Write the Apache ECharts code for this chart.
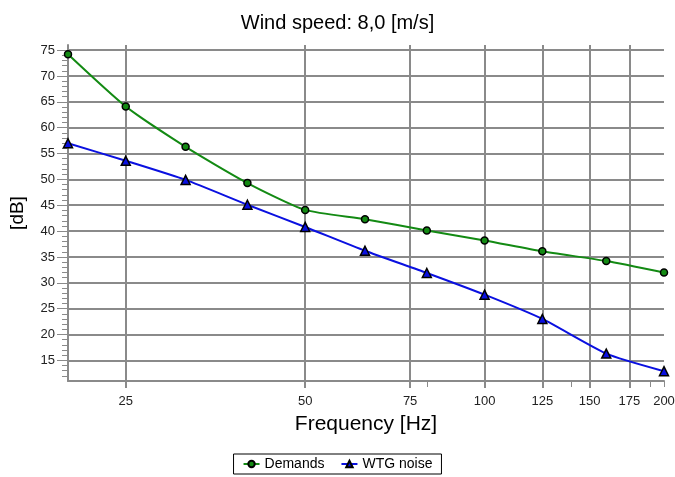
<!DOCTYPE html>
<html>
<head>
<meta charset="utf-8">
<script src="https://cdn.jsdelivr.net/npm/echarts@6/dist/echarts.min.js"></script>
<style>
  html, body { margin: 0; padding: 0; background: #fff; }
  #chart { width: 675px; height: 477px; }
</style>
</head>
<body>
<div id="chart"></div>
<script>
// 1/3 octave band frequencies [Hz]
var freqs = [20, 25, 31.5, 40, 50, 63, 80, 100, 125, 160, 200];
var demands = [74.2, 64.1, 56.3, 49.3, 44.1, 42.3, 40.1, 38.2, 36.1, 34.2, 32.0];
var wtgNoise = [57.0, 53.6, 49.9, 45.1, 40.8, 36.2, 31.9, 27.7, 23.0, 16.3, 12.9];
var xLabels = [25, 50, 75, 100, 125, 150, 175, 200];
var xGridTicks = [25, 50, 75, 100, 125, 150, 175];
var xExtraTicks = [80, 140, 190, 200];
var yTicks = [15, 20, 25, 30, 35, 40, 45, 50, 55, 60, 65, 70, 75];
var yMinorTicks = [];
for (var v = 12; v <= 75; v++) yMinorTicks.push(v);

function pairs(ys) {
  return freqs.map(function (f, i) { return [f, ys[i]]; });
}

var font = '"Liberation Sans", Arial, sans-serif';
var gridColor = '#8a8a8a';

var myChart = echarts.init(document.getElementById('chart'));
var option = {
  animation: false,
  title: {
    text: 'Wind speed: 8,0 [m/s]',
    left: 'center',
    top: 8,
    textStyle: { fontFamily: font, fontSize: 20, fontWeight: 'normal', color: '#000' }
  },
  legend: {
    bottom: 3,
    left: 'center',
    data: ['Demands', 'WTG noise'],
    borderColor: '#000',
    borderWidth: 1,
    padding: [3, 9],
    itemGap: 16,
    itemWidth: 16,
    itemHeight: 8,
    textStyle: { fontFamily: font, fontSize: 14, color: '#000' }
  },
  grid: { left: 68, right: 11, top: 45, bottom: 96, outerBoundsMode: 'none', containLabel: false },
  xAxis: [
    {
      type: 'log',
      logBase: 10,
      min: 20,
      max: 200,
      name: 'Frequency [Hz]',
      nameLocation: 'middle',
      nameGap: 33,
      nameTextStyle: { fontFamily: font, fontSize: 21, color: '#000' },
      axisLine: { show: true, lineStyle: { color: gridColor, width: 2 } },
      axisTick: { show: true, customValues: xGridTicks, length: 7, lineStyle: { color: gridColor, width: 2 } },
      axisLabel: { customValues: xLabels, margin: 14, fontFamily: font, fontSize: 13, color: '#222' },
      splitLine: { show: true, lineStyle: { color: gridColor, width: 2 } },
      minorTick: { show: false },
      minorSplitLine: { show: false }
    },
    {
      type: 'log',
      logBase: 10,
      min: 20,
      max: 200,
      position: 'bottom',
      axisLine: { show: false },
      axisTick: { show: true, customValues: xExtraTicks, length: 6, lineStyle: { color: gridColor, width: 1 } },
      axisLabel: { show: false },
      splitLine: { show: false }
    }
  ],
  yAxis: [
    {
      type: 'value',
      min: 11,
      max: 76,
      name: '[dB]',
      nameLocation: 'middle',
      nameGap: 41,
      nameTextStyle: { fontFamily: font, fontSize: 19, color: '#000' },
      axisLine: { show: true, lineStyle: { color: gridColor, width: 2 } },
      axisTick: { show: true, customValues: yTicks, length: 11, lineStyle: { color: gridColor, width: 1 } },
      axisLabel: { customValues: yTicks, margin: 13, fontFamily: font, fontSize: 13, color: '#222' },
      splitLine: { show: true, lineStyle: { color: gridColor, width: 2 } }
    },
    {
      type: 'value',
      min: 11,
      max: 76,
      position: 'left',
      axisLine: { show: false },
      axisTick: { show: true, customValues: yMinorTicks, length: 6, lineStyle: { color: gridColor, width: 1 } },
      axisLabel: { show: false },
      splitLine: { show: false }
    }
  ],
  series: [
    {
      name: 'Demands',
      type: 'line',
      data: pairs(demands),
      smooth: 0.2,
      symbol: 'circle',
      symbolSize: 7,
      lineStyle: { color: '#138a13', width: 2 },
      itemStyle: { color: '#138a13', borderColor: '#000', borderWidth: 1.5 }
    },
    {
      name: 'WTG noise',
      type: 'line',
      data: pairs(wtgNoise),
      smooth: 0.2,
      symbol: 'triangle',
      symbolSize: 9,
      lineStyle: { color: '#0a10e0', width: 2 },
      itemStyle: { color: '#0a10e0', borderColor: '#000', borderWidth: 1.5 }
    }
  ]
};
window.onresize = myChart.resize;
myChart.setOption(option);
</script>
</body>
</html>
